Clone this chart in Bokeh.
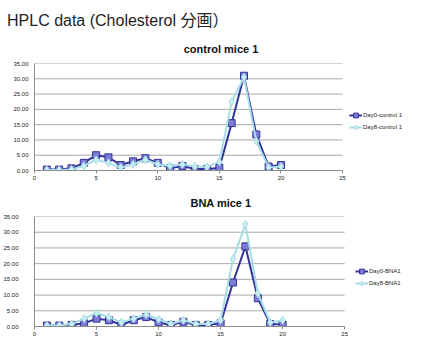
from bokeh.plotting import figure
from bokeh.models import (Div, Legend, LegendItem, FixedTicker, NumeralTickFormatter,
                          Range1d, ColumnDataSource)
from bokeh.layouts import column
from bokeh.embed import file_html
from bokeh.resources import INLINE

# ---- data ----
fractions = list(range(1, 21))
ctrl_day0 = [0.3, 0.3, 0.7, 2.5, 5.0, 4.3, 1.8, 3.0, 4.0, 2.5,
             0.7, 1.5, 0.5, 0.5, 0.8, 15.5, 31.0, 11.8, 1.3, 1.8]
ctrl_day8 = [0.2, 0.2, 0.3, 1.5, 3.5, 2.5, 1.0, 2.0, 3.5, 2.0,
             1.5, 2.0, 1.3, 1.2, 2.8, 22.5, 30.5, 9.6, 1.0, 1.3]
bna_day0 = [0.3, 0.3, 0.5, 1.0, 2.5, 2.0, 0.5, 2.0, 3.0, 1.3,
            0.5, 1.5, 0.5, 0.5, 1.0, 14.0, 25.5, 9.0, 0.8, 0.6]
bna_day8 = [0.3, 0.3, 0.8, 2.5, 4.3, 3.0, 1.3, 2.5, 3.8, 2.3,
            0.8, 2.0, 0.8, 0.8, 2.0, 21.5, 32.5, 10.5, 1.3, 2.0]
series_ctrl = ["Day0-control 1", "Day8-control 1"]
series_bna = ["Day0-BNA1", "Day8-BNA1"]
x_ticks = [0, 5, 10, 15, 20, 25]
y_ticks = [0, 5, 10, 15, 20, 25, 30, 35]
main_title = "HPLC data (Cholesterol 分画）"

FONT = "Liberation Sans, Arial, Noto Sans CJK JP, sans-serif"
DARK = "#333399"
DARK_FILL = "#7b7bd6"
LIGHT = "#a6dde6"
LIGHT_FILL = "#c8eef3"
FIG_W = 407


def make_chart(title, y0, y8, names, height, left, data_w, top, bottom,
               title_standoff, label_standoff, leg_loc):
    frame_w = FIG_W - left
    x_end = x_ticks[-1] * frame_w / data_w  # leave room for legend inside the frame
    p = figure(width=FIG_W, height=height, output_backend="svg", toolbar_location=None,
               x_range=Range1d(0, x_end), y_range=Range1d(0, 35),
               min_border_left=left, min_border_right=0,
               min_border_top=top, min_border_bottom=bottom)
    p.outline_line_color = None
    p.background_fill_color = "white"
    p.title.text = title
    p.title.align = "center"
    p.title.text_font = FONT
    p.title.text_font_size = "11px"
    p.title.text_font_style = "bold"
    p.title.text_color = "#111111"
    p.title.standoff = title_standoff

    p.xgrid.grid_line_color = None
    p.ygrid.grid_line_color = None
    # horizontal grid lines limited to the x axis extent
    p.segment(x0=[x_ticks[0]] * len(y_ticks), x1=[x_ticks[-1]] * len(y_ticks),
              y0=y_ticks, y1=y_ticks, line_color="#a8a8a8", line_width=1)

    p.xaxis.ticker = FixedTicker(ticks=x_ticks)
    p.xaxis.bounds = (x_ticks[0], x_ticks[-1])
    p.yaxis.ticker = FixedTicker(ticks=y_ticks)
    p.yaxis.formatter = NumeralTickFormatter(format="0.00")
    for ax in (p.xaxis, p.yaxis):
        ax.axis_line_color = "#8c8c8c"
        ax.major_tick_line_color = "#8c8c8c"
        ax.minor_tick_line_color = None
        ax.major_tick_in = 0
        ax.major_label_text_font = FONT
        ax.major_label_text_font_size = "6px"
        ax.major_label_text_color = "#222222"
    p.xaxis.major_tick_out = 3
    p.xaxis.major_label_standoff = 2
    p.yaxis.major_tick_out = 0
    p.yaxis.major_label_standoff = label_standoff

    src = ColumnDataSource(dict(x=fractions, a=y0, b=y8))
    l0 = p.line("x", "a", source=src, line_color=DARK, line_width=2)
    m0 = p.scatter("x", "a", source=src, marker="square", size=7,
                   line_color=DARK, fill_color=DARK_FILL, line_width=1)
    l8 = p.line("x", "b", source=src, line_color=LIGHT, line_width=2)
    m8 = p.scatter("x", "b", source=src, marker="diamond", size=8,
                   line_color=LIGHT, fill_color=LIGHT_FILL, line_width=1)

    leg = Legend(items=[LegendItem(label=names[0], renderers=[l0, m0]),
                        LegendItem(label=names[1], renderers=[l8, m8])],
                 location=leg_loc)
    leg.background_fill_alpha = 0
    leg.border_line_color = None
    leg.padding = 0
    leg.margin = 0
    leg.spacing = 0
    leg.glyph_width = 13
    leg.glyph_height = 12
    leg.label_height = 12
    leg.label_standoff = 1
    leg.label_text_font = FONT
    leg.label_text_font_size = "6px"
    leg.label_text_color = "#222222"
    p.add_layout(leg)
    return p


head = Div(text=main_title, width=FIG_W, height=22,
           styles={"font-family": FONT, "font-size": "16px", "color": "#222222",
                   "padding-left": "2px", "padding-top": "7px", "line-height": "18px",
                   "box-sizing": "border-box", "white-space": "nowrap"})

p1 = make_chart("control mice 1", ctrl_day0, ctrl_day8, series_ctrl, 154,
                22, 318, 30, 16, 17, 6, (315, 37))
p2 = make_chart("BNA mice 1", bna_day0, bna_day8, series_bna, 154,
                33, 311, 29, 14, 16, 16, (321, 37))

layout = column(head, p1, p2, spacing=0)
open("out.html", "w").write(file_html(layout, INLINE))
